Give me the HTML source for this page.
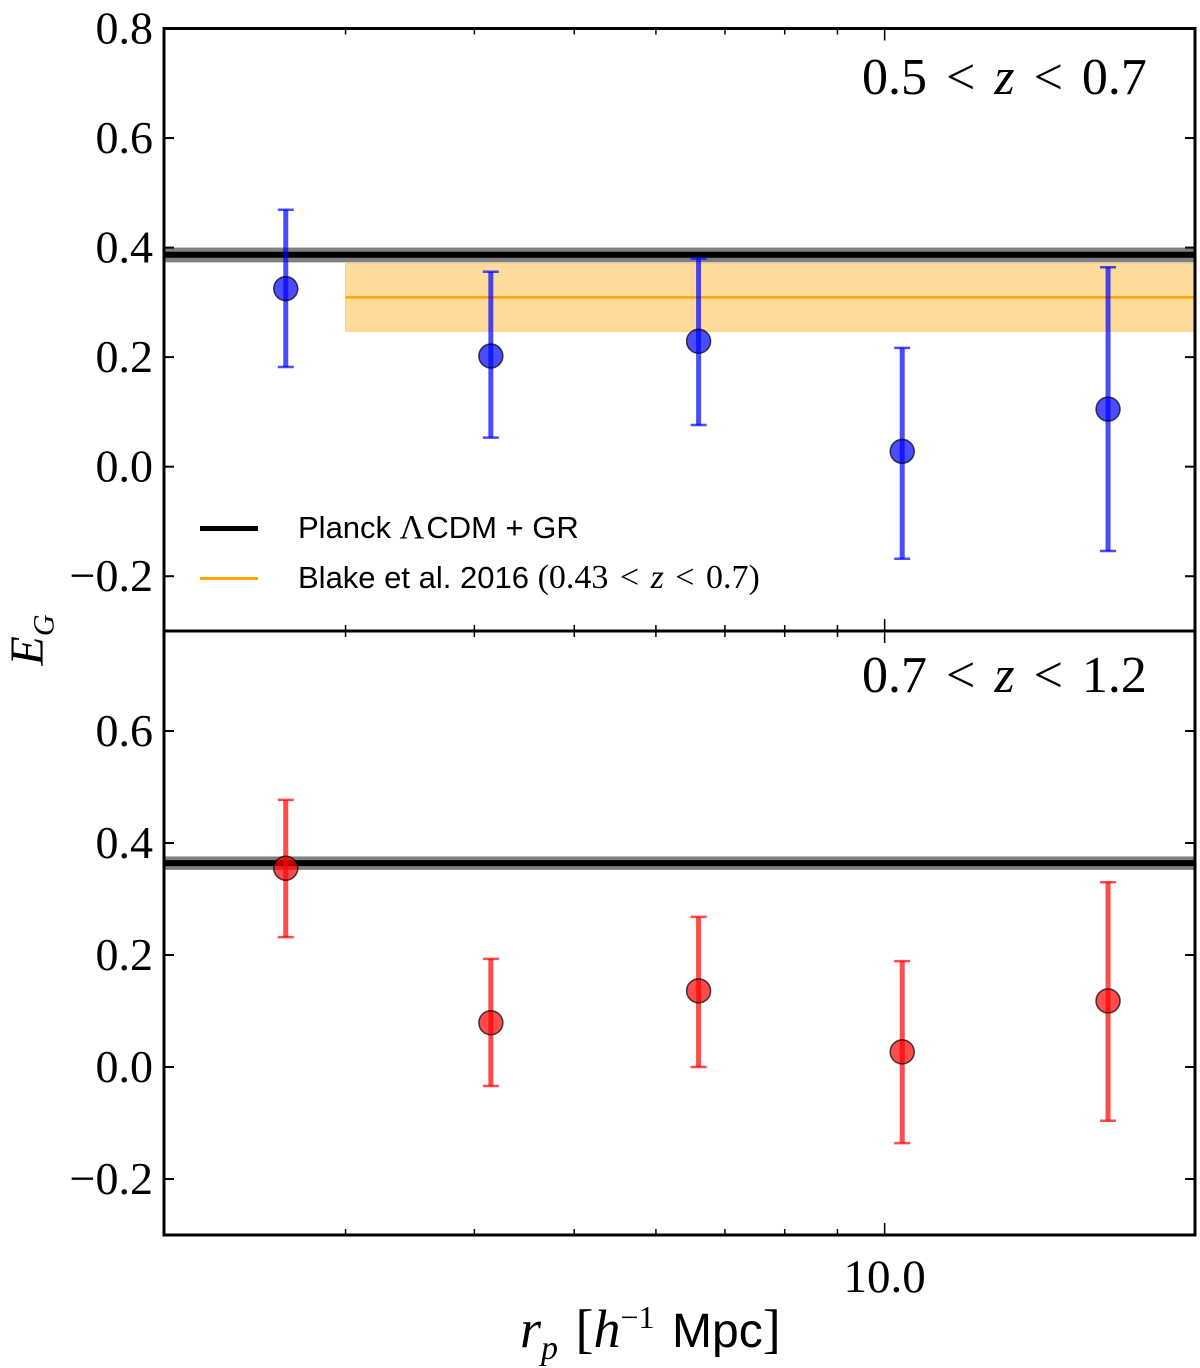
<!DOCTYPE html>
<html><head><meta charset="utf-8"><style>
body{margin:0;background:#fff;}
svg text{font-family:"Liberation Serif",serif;}
</style></head><body>
<svg id="chart" width="1200" height="1360" viewBox="0 0 1200 1360" xmlns="http://www.w3.org/2000/svg"></svg>
<script>
const xPoints = [2.625, 4.15, 6.6, 10.4, 16.47];
const topValues = [0.325, 0.202, 0.229, 0.028, 0.105];
const topErrUp = [0.469, 0.356, 0.380, 0.217, 0.364];
const topErrDn = [0.182, 0.053, 0.076, -0.168, -0.154];
const botValues = [0.355, 0.079, 0.136, 0.027, 0.118];
const botErrUp = [0.477, 0.193, 0.268, 0.189, 0.330];
const botErrDn = [0.232, -0.034, 0.0, -0.136, -0.096];
const planckTop = [0.387, 0.373, 0.400];
const planckBot = [0.364, 0.352, 0.376];
const blakeBand = [0.309, 0.247, 0.371];
const blakeXStart = [3.0];
const yTicksTop = [0.8, 0.6, 0.4, 0.2, 0.0, -0.2];
const yTickLabelsTop = ["0.8","0.6","0.4","0.2","0.0","\u22120.2"];
const yTicksBot = [0.6, 0.4, 0.2, 0.0, -0.2];
const yTickLabelsBot = ["0.6","0.4","0.2","0.0","\u22120.2"];
const xMinorTicks = [3,4,5,6,7,8,9];
const xMajorTicks = [10];
const xMajorLabels = ["10.0"];

const NS="http://www.w3.org/2000/svg";
const svg=document.getElementById('chart');
const L=164,R=1195;
const xs=v=>L+(Math.log10(v)-Math.log10(2))/(Math.log10(20)-Math.log10(2))*(R-L);
const P1={top:28.5,bot:631,ymin:-0.3,ymax:0.8};
const P2={top:631,bot:1235,ymin:-0.3,ymax:0.7786};
const ys=(p,v)=>p.bot-(v-p.ymin)/(p.ymax-p.ymin)*(p.bot-p.top);
function el(tag,attrs,parent){const e=document.createElementNS(NS,tag);for(const k in attrs)e.setAttribute(k,attrs[k]);(parent||svg).appendChild(e);return e;}

function panel(p,name,vals,up,dn,color,planck,ticks,labels,withBlake){
  const g=el('g',{});
  
  
  const pb=el('rect',{x:L,y:ys(p,planck[2]),width:R-L,height:ys(p,planck[1])-ys(p,planck[2]),fill:'#808080'},g);
  
  
  const pl=el('line',{x1:L,x2:R,y1:ys(p,planck[0]),y2:ys(p,planck[0]),stroke:'#000','stroke-width':6},g);
  
  
  if(withBlake){
    const bb=el('rect',{x:xs(blakeXStart[0]),y:ys(p,blakeBand[2]),width:R-xs(blakeXStart[0]),height:ys(p,blakeBand[1])-ys(p,blakeBand[2]),fill:'#ffa500','fill-opacity':0.4,stroke:'#ffa500','stroke-opacity':0.4},g);
    
    
    const bl=el('line',{x1:xs(blakeXStart[0]),x2:R,y1:ys(p,blakeBand[0]),y2:ys(p,blakeBand[0]),stroke:'#ffa500','stroke-width':2.5},g);
    
    
  }
  vals.forEach((v,i)=>{
    const x=xs(xPoints[i]);
    const eb=el('g',{stroke:color,'stroke-width':5,'stroke-opacity':0.7},g);
    
    
    el('line',{x1:x,x2:x,y1:ys(p,up[i]),y2:ys(p,dn[i])},eb);
    el('line',{x1:x-8,x2:x+8,y1:ys(p,up[i]),y2:ys(p,up[i]),'stroke-width':2.5},eb);
    el('line',{x1:x-8,x2:x+8,y1:ys(p,dn[i]),y2:ys(p,dn[i]),'stroke-width':2.5},eb);
    const c=el('circle',{cx:x,cy:ys(p,v),r:12,fill:color,'fill-opacity':0.7,stroke:'#000','stroke-opacity':0.7,'stroke-width':1.5},g);
    
    
  });
  const fr=el('rect',{x:L,y:p.top,width:R-L,height:p.bot-p.top,fill:'none',stroke:'#000','stroke-width':3},g);
  
  
  ticks.forEach((t,i)=>{
    const y=ys(p,t);
    el('line',{x1:L,x2:L+10,y1:y,y2:y,stroke:'#000','stroke-width':2},g);
    el('line',{x1:R-10,x2:R,y1:y,y2:y,stroke:'#000','stroke-width':2},g);
    const tx=el('text',{x:153,y:y+15,'text-anchor':'end','font-size':46},g);
    tx.textContent=labels[i];
    
    
  });
  xMinorTicks.forEach(t=>{const x=xs(t);
    el('line',{x1:x,x2:x,y1:p.bot,y2:p.bot-6,stroke:'#000','stroke-width':1.5},g);
    el('line',{x1:x,x2:x,y1:p.top,y2:p.top+6,stroke:'#000','stroke-width':1.5},g);});
  xMajorTicks.forEach(t=>{const x=xs(t);
    el('line',{x1:x,x2:x,y1:p.bot,y2:p.bot-12,stroke:'#000','stroke-width':1.5},g);
    el('line',{x1:x,x2:x,y1:p.top,y2:p.top+12,stroke:'#000','stroke-width':1.5},g);});
}
panel(P1,'top',topValues,topErrUp,topErrDn,'#0000ff',planckTop,yTicksTop,yTickLabelsTop,true);
panel(P2,'bottom',botValues,botErrUp,botErrDn,'#ff0000',planckBot,yTicksBot,yTickLabelsBot,false);

xMajorTicks.forEach((t,i)=>{
  const tx=el('text',{x:xs(t),y:1292,'text-anchor':'middle','font-size':47});
  tx.textContent=xMajorLabels[i];
  
  
});
</script>
<div style="position:absolute;left:0;top:0;width:1200px;height:1360px;pointer-events:none;font-family:'Liberation Serif',serif;">
  <div style="position:absolute;left:862px;top:48px;font-size:52px;white-space:nowrap;word-spacing:6px;">0.5 &lt; <i>z</i> &lt; 0.7</div>
  <div style="position:absolute;left:862px;top:646px;font-size:52px;white-space:nowrap;word-spacing:6px;">0.7 &lt; <i>z</i> &lt; 1.2</div>
  <div style="position:absolute;left:200px;top:503px;font-family:'Liberation Sans',sans-serif;font-size:31px;">
    <div style="height:50px;display:flex;align-items:center;white-space:nowrap;"><span style="display:inline-block;width:58px;height:5px;background:#000;margin-right:40px;"></span>Planck&nbsp;<span style="font-family:'Liberation Serif',serif;font-size:34px;margin-right:2px;">Λ</span>CDM + GR</div>
    <div style="height:50px;display:flex;align-items:center;white-space:nowrap;"><span style="display:inline-block;width:58px;height:3px;background:#ffa500;margin-right:40px;"></span>Blake et al. 2016&nbsp;<span style="font-family:'Liberation Serif',serif;font-size:34px;word-spacing:3px;">(0.43 &lt; <i>z</i> &lt; 0.7)</span></div>
  </div>
  <div style="position:absolute;left:0px;top:610px;width:60px;height:60px;transform:rotate(-90deg);font-size:48px;text-align:center;"><i>E<sub style="font-size:30px;">G</sub></i></div>
  <div style="position:absolute;left:520px;top:1298px;font-size:54px;white-space:nowrap;word-spacing:4px;"><i>r<sub style="font-size:34px;">p</sub></i> [<i>h</i><sup style="font-size:32px;">−1</sup> <span style="font-family:'Liberation Sans',sans-serif;font-size:48px;">Mpc</span>]</div>
</div>
</body></html>
